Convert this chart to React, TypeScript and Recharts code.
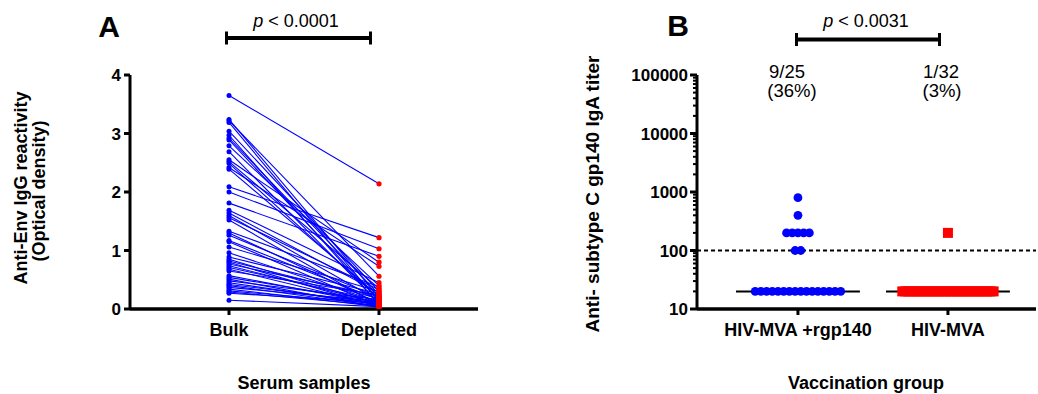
import React from 'react';
import { ComposedChart, Line, Scatter, XAxis, YAxis } from 'recharts';

const FONT = '"Liberation Sans", Arial, Helvetica, sans-serif';

// Panel A: paired optical density, bulk vs depleted serum
const sampleCategories = ['Bulk', 'Depleted'];
const odTicks = [0, 1, 2, 3, 4];
const bulkOD = [
  3.65, 3.24, 3.22, 3.19, 3.04, 2.97, 2.92, 2.89, 2.79, 2.69, 2.55, 2.52, 2.49, 2.42, 2.39,
  2.09, 2.0, 1.81, 1.69, 1.64, 1.6, 1.56, 1.52, 1.33, 1.3, 1.26, 1.17, 1.15, 1.06, 0.96,
  0.89, 0.85, 0.82, 0.8, 0.77, 0.74, 0.71, 0.68, 0.65, 0.57, 0.54, 0.51, 0.48, 0.45, 0.42,
  0.4, 0.37, 0.34, 0.31, 0.29, 0.27, 0.15,
];
const depletedOD = [
  2.14, 0.2, 0.56, 0.12, 0.3, 0.08, 0.25, 0.15, 0.4, 0.1, 0.8, 0.35, 0.18, 0.73, 0.22,
  1.22, 1.03, 0.9, 0.45, 0.28, 0.14, 0.33, 0.06, 0.38, 0.1, 0.2, 0.16, 0.05, 0.3, 0.12,
  0.26, 0.08, 0.18, 0.04, 0.22, 0.1, 0.14, 0.06, 0.24, 0.08, 0.12, 0.03, 0.16, 0.07, 0.1,
  0.05, 0.13, 0.04, 0.09, 0.06, 0.11, 0.04,
];

// Panel B: IgA titers per vaccination group
const groupCategories = ['HIV-MVA +rgp140', 'HIV-MVA'];
const rgp140Titers = [
  800, 400, 200, 200, 200, 200, 200, 100, 100,
  20, 20, 20, 20, 20, 20, 20, 20, 20, 20, 20, 20, 20, 20, 20, 20,
];
const mvaTiters = [
  200,
  20, 20, 20, 20, 20, 20, 20, 20, 20, 20, 20, 20, 20, 20, 20, 20,
  20, 20, 20, 20, 20, 20, 20, 20, 20, 20, 20, 20, 20, 20, 20,
];
const responderCounts = ['9/25', '1/32'];
const responderPercents = ['(36%)', '(3%)'];
const titerCutoff = 100;
const titerMajorTicks = [10, 100, 1000, 10000, 100000];
const titerTicks = titerMajorTicks.flatMap((d, i) =>
  i === titerMajorTicks.length - 1 ? [d] : [1, 2, 3, 4, 5, 6, 7, 8, 9].map((k) => d * k)
);

const median = (vals: number[]) => {
  const s = [...vals].sort((a, b) => a - b);
  const m = Math.floor(s.length / 2);
  return s.length % 2 ? s[m] : (s[m - 1] + s[m]) / 2;
};

// spread identical values side by side around the group position
const swarm = (values: number[], center: number, step: number) => {
  const counts: Record<number, number> = {};
  const seen: Record<number, number> = {};
  values.forEach((v) => (counts[v] = (counts[v] || 0) + 1));
  return values.map((v) => {
    const k = seen[v] || 0;
    seen[v] = k + 1;
    return { x: center + (k - (counts[v] - 1) / 2) * step, y: v };
  });
};

const pairs = bulkOD.map((b, i) => [
  { x: 0, y: b },
  { x: 1, y: depletedOD[i] },
]);
const bulkPts = bulkOD.map((y) => ({ x: 0, y }));
const depletedPts = depletedOD.map((y) => ({ x: 1, y }));

const rgpPts = swarm(rgp140Titers, 0, 0.038);
const mvaPts = swarm(mvaTiters, 1, 0.0203);
const medianHalf = 0.413;
const xDomainB: [number, number] = [-0.673, 1.587];

const tickStyle = { fill: '#000', fontSize: 17, fontWeight: 700, fontFamily: FONT };
const catStyle = { fill: '#000', fontSize: 18, fontWeight: 700, fontFamily: FONT };

const LogTick = (props: any) => {
  const { x, y, payload } = props;
  const major = titerMajorTicks.includes(payload.value);
  return (
    <g>
      <line x1={x - (major ? 7 : 4)} x2={x} y1={y} y2={y} stroke="#000" strokeWidth={major ? 3 : 2} />
      {major && (
        <text x={x - 9} y={y} dy="0.36em" textAnchor="end" {...tickStyle}>
          {payload.value}
        </text>
      )}
    </g>
  );
};

const Bracket = ({ x1, x2, y }: { x1: number; x2: number; y: number }) => (
  <g stroke="#000">
    <line x1={x1} x2={x2} y1={y} y2={y} strokeWidth={4} />
    <line x1={x1 + 1.5} x2={x1 + 1.5} y1={y - 6.5} y2={y + 6.5} strokeWidth={3} />
    <line x1={x2 - 1.5} x2={x2 - 1.5} y1={y - 6.5} y2={y + 6.5} strokeWidth={3} />
  </g>
);

export default function App() {
  return (
    <div style={{ position: 'absolute', left: 0, top: 0, width: 1038, height: 394, background: '#fff', fontFamily: FONT }}>
      <div style={{ position: 'absolute', left: 0, top: 0 }}>
        <ComposedChart width={520} height={394} margin={{ top: 75, right: 42, bottom: 45, left: 70 }}>
          <XAxis
            type="number"
            dataKey="x"
            domain={[-0.66, 1.66]}
            ticks={[0, 1]}
            interval={0}
            allowDataOverflow
            tickFormatter={(v: number) => sampleCategories[v]}
            axisLine={{ stroke: '#000', strokeWidth: 3.5 }}
            tickLine={{ stroke: '#000', strokeWidth: 3 }}
            tickSize={6}
            tickMargin={8}
            tick={catStyle}
            height={40}
          />
          <YAxis
            type="number"
            domain={[0, 4]}
            ticks={odTicks}
            interval={0}
            allowDataOverflow
            width={60}
            axisLine={{ stroke: '#000', strokeWidth: 3 }}
            tickLine={{ stroke: '#000', strokeWidth: 3 }}
            tickSize={6}
            tickMargin={3}
            tick={tickStyle}
          />
          {pairs.map((p, i) => (
            <Line
              key={i}
              data={p}
              dataKey="y"
              type="linear"
              stroke="#0000ff"
              strokeWidth={1.1}
              dot={false}
              activeDot={false}
              isAnimationActive={false}
            />
          ))}
          <Scatter
            data={bulkPts}
            dataKey="y"
            isAnimationActive={false}
            shape={(p: any) => <circle cx={p.cx} cy={p.cy} r={2.5} fill="#0000ff" />}
          />
          <Scatter
            data={depletedPts}
            dataKey="y"
            isAnimationActive={false}
            shape={(p: any) => <circle cx={p.cx} cy={p.cy} r={2.6} fill="#ff0000" />}
          />
        </ComposedChart>
      </div>

      <div style={{ position: 'absolute', left: 560, top: 0 }}>
        <ComposedChart width={478} height={394} margin={{ top: 75, right: 2, bottom: 45, left: 77 }}>
          <XAxis
            type="number"
            dataKey="x"
            domain={xDomainB}
            ticks={[0, 1]}
            interval={0}
            allowDataOverflow
            tickFormatter={(v: number) => groupCategories[v]}
            axisLine={{ stroke: '#000', strokeWidth: 3.5 }}
            tickLine={{ stroke: '#000', strokeWidth: 3 }}
            tickSize={6}
            tickMargin={8}
            tick={catStyle}
            height={40}
          />
          <YAxis
            type="number"
            scale="log"
            domain={[10, 100000]}
            ticks={titerTicks}
            interval={0}
            allowDataOverflow
            width={60}
            axisLine={{ stroke: '#000', strokeWidth: 3 }}
            tickLine={false}
            tickSize={0}
            tickMargin={0}
            tick={<LogTick />}
          />
          <Line
            data={[
              { x: xDomainB[0], y: titerCutoff },
              { x: xDomainB[1], y: titerCutoff },
            ]}
            dataKey="y"
            stroke="#000"
            strokeWidth={2}
            strokeDasharray="4 3"
            dot={false}
            activeDot={false}
            isAnimationActive={false}
          />
          {[rgp140Titers, mvaTiters].map((vals, gi) => (
            <Line
              key={'med' + gi}
              data={[
                { x: gi - medianHalf, y: median(vals) },
                { x: gi + medianHalf, y: median(vals) },
              ]}
              dataKey="y"
              stroke="#000"
              strokeWidth={2}
              dot={false}
              activeDot={false}
              isAnimationActive={false}
            />
          ))}
          <Scatter
            data={rgpPts}
            dataKey="y"
            isAnimationActive={false}
            shape={(p: any) => <circle cx={p.cx} cy={p.cy} r={4.4} fill="#0000ff" />}
          />
          <Scatter
            data={mvaPts}
            dataKey="y"
            isAnimationActive={false}
            shape={(p: any) => <rect x={p.cx - 5} y={p.cy - 5} width={10} height={10} fill="#ff0000" />}
          />
        </ComposedChart>
      </div>

      <svg width={1038} height={394} style={{ position: 'absolute', left: 0, top: 0, pointerEvents: 'none' }} fontFamily={FONT}>
        <text x={109} y={37} textAnchor="middle" fontSize={30} fontWeight={700}>A</text>
        <text x={678} y={36} textAnchor="middle" fontSize={30} fontWeight={700}>B</text>

        <Bracket x1={225} x2={372} y={38} />
        <text x={296} y={27} textAnchor="middle" fontSize={18}>
          <tspan fontStyle="italic">p</tspan> &lt; 0.0001
        </text>
        <Bracket x1={795} x2={941} y={39.5} />
        <text x={866} y={27} textAnchor="middle" fontSize={18}>
          <tspan fontStyle="italic">p</tspan> &lt; 0.0031
        </text>

        <text x={787} y={78} textAnchor="middle" fontSize={18.5}>{responderCounts[0]}</text>
        <text x={792} y={97} textAnchor="middle" fontSize={18.5}>{responderPercents[0]}</text>
        <text x={941} y={78} textAnchor="middle" fontSize={18.5}>{responderCounts[1]}</text>
        <text x={942} y={97} textAnchor="middle" fontSize={18.5}>{responderPercents[1]}</text>

        <text transform="translate(27,188) rotate(-90)" textAnchor="middle" fontSize={18} fontWeight={700}>
          Anti-Env IgG reactivity
        </text>
        <text transform="translate(45,191) rotate(-90)" textAnchor="middle" fontSize={18} fontWeight={700}>
          (Optical density)
        </text>
        <text transform="translate(599,194) rotate(-90)" textAnchor="middle" fontSize={19} fontWeight={700}>
          Anti- subtype C gp140 IgA titer
        </text>

        <text x={304} y={389} textAnchor="middle" fontSize={18} fontWeight={700}>Serum samples</text>
        <text x={866} y={389} textAnchor="middle" fontSize={18} fontWeight={700}>Vaccination group</text>
      </svg>
    </div>
  );
}
